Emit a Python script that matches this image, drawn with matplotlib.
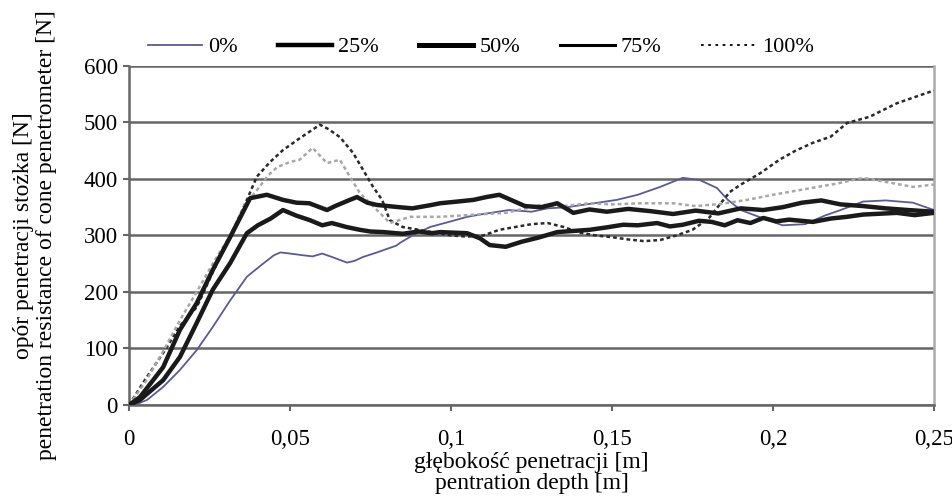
import numpy as np
import matplotlib
matplotlib.use('Agg')
import matplotlib.pyplot as plt
from matplotlib.lines import Line2D

plt.rcParams['font.family'] = ['Liberation Serif', 'DejaVu Serif']

# 0% - niebieska
x0 = [0, 0.003, 0.0056, 0.0106, 0.0158, 0.021, 0.026, 0.0314, 0.0366, 0.0416, 0.045, 0.047, 0.05, 0.054,
      0.057, 0.06, 0.063, 0.0677, 0.07, 0.0727, 0.077, 0.083, 0.0842, 0.088, 0.0935, 0.1, 0.105, 0.11,
      0.118, 0.125, 0.13, 0.136, 0.142, 0.1515, 0.158, 0.165, 0.172, 0.1773, 0.1826, 0.186, 0.19, 0.197,
      0.203, 0.21, 0.216, 0.221, 0.228, 0.235, 0.2435, 0.25]
y0 = [0, 3, 9, 32, 62, 97, 138, 185, 227, 250, 265, 270, 268, 265,
      263, 268, 262, 252, 255, 262, 270, 282, 287, 300, 315, 325, 333, 338,
      345, 342, 348, 350, 355, 363, 372, 386, 402, 398, 384, 363, 345, 330,
      318, 320, 335, 345, 360, 362, 358, 345]

# 25%
x25 = [0, 0.0034, 0.0106, 0.0158, 0.021, 0.026, 0.0314, 0.0366, 0.04, 0.044, 0.0478, 0.052, 0.0562,
       0.06, 0.063, 0.0675, 0.0717, 0.075, 0.079, 0.085, 0.09, 0.094, 0.0966, 0.105, 0.109, 0.112, 0.117,
       0.122, 0.127, 0.133, 0.138, 0.143, 0.148, 0.1535, 0.158, 0.164, 0.168, 0.172, 0.177, 0.181, 0.185,
       0.189, 0.193, 0.197, 0.201, 0.205, 0.2124, 0.218, 0.223, 0.228, 0.2385, 0.244, 0.25]
y25 = [0, 9, 44, 85, 145, 204, 251, 304, 318, 330, 345, 335, 327,
       318, 322, 315, 310, 307, 306, 303, 307, 304, 306, 304, 295, 283, 280,
       289, 296, 306, 308, 310, 314, 319, 318, 322, 316, 319, 326, 324, 318,
       327, 322, 331, 325, 328, 324, 330, 333, 337, 340, 336, 340]

# 50%
x50 = [0, 0.0034, 0.0106, 0.0158, 0.021, 0.026, 0.0314, 0.0376, 0.0428, 0.0478, 0.052, 0.056, 0.0615,
       0.064, 0.0686, 0.0708, 0.074, 0.077, 0.084, 0.088, 0.094, 0.0966, 0.102, 0.107, 0.111, 0.115,
       0.119, 0.123, 0.128, 0.133, 0.138, 0.143, 0.1484, 0.155, 0.162, 0.169, 0.176, 0.183, 0.19, 0.197,
       0.203, 0.209, 0.215, 0.221, 0.228, 0.235, 0.242, 0.25]
y50 = [0, 14, 67, 133, 180, 239, 297, 366, 372, 363, 358, 357, 345,
       352, 363, 368, 358, 354, 350, 348, 354, 357, 360, 363, 368, 372,
       362, 352, 350, 357, 340, 346, 342, 347, 343, 338, 344, 339, 348, 345,
       350, 358, 362, 355, 352, 348, 345, 342]

# 75% - jasnoszara kropkowana
x75 = [0, 0.005, 0.0106, 0.0158, 0.021, 0.026, 0.0314, 0.036, 0.0397, 0.043, 0.046, 0.05, 0.053, 0.057,
       0.0615, 0.0655, 0.0686, 0.0717, 0.077, 0.081, 0.0873, 0.0966, 0.105, 0.117, 0.128, 0.135, 0.143,
       0.15, 0.159, 0.169, 0.176, 0.184, 0.192, 0.2, 0.206, 0.213, 0.22, 0.228, 0.2435, 0.25]
y75 = [0, 40, 95, 150, 200, 250, 300, 355, 380, 405, 421, 430, 434, 455,
       428, 434, 404, 375, 345, 322, 333, 333, 336, 340, 354, 352, 357,
       355, 357, 357, 352, 356, 363, 372, 378, 385, 392, 402, 386, 390]

# 100% - ciemna kropkowana
x100 = [0, 0.005, 0.0106, 0.0158, 0.021, 0.026, 0.0314, 0.0366, 0.0397, 0.0438, 0.0478, 0.053, 0.0593,
        0.062, 0.0655, 0.0696, 0.0727, 0.0758, 0.0786, 0.081, 0.085, 0.09, 0.095, 0.1, 0.105, 0.11, 0.115,
        0.12, 0.125, 0.13, 0.135, 0.14, 0.145, 0.15, 0.155, 0.16, 0.165, 0.17, 0.175, 0.18, 0.1866, 0.19,
        0.196, 0.202, 0.207, 0.2124, 0.218, 0.223, 0.23, 0.2385, 0.2487, 0.25]
y100 = [0, 45, 92, 140, 173, 235, 297, 363, 404, 430, 451, 472, 496,
        488, 474, 446, 416, 386, 363, 327, 315, 310, 305, 300, 298, 300, 310,
        315, 320, 322, 315, 305, 300, 297, 293, 290, 292, 300, 310, 330, 377, 390,
        410, 434, 450, 464, 475, 499, 510, 534, 554, 556]

labels = ['0%', '25%', '50%', '75%', '100%']
xticks = [0, 0.05, 0.1, 0.15, 0.2, 0.25]
xtick_labels = ['0', '0,05', '0,1', '0,15', '0,2', '0,25']
yticks = [0, 100, 200, 300, 400, 500, 600]

fig = plt.figure(figsize=(9.53, 5.01), dpi=100)
ax = fig.add_axes([0.1354, 0.1916, 0.8446, 0.6768])

ax.plot(x0, y0, color='#5a5a96', lw=1.3, zorder=3)
ax.plot(x100, y100, color='#2a2a2a', lw=1.8, ls=(0, (1.5, 1.2)), zorder=3)
ax.plot(x75, y75, color='#a8a8a8', lw=1.8, ls=(0, (1.5, 1.2)), zorder=3)
ax.plot(x25, y25, color='#1a1a1a', lw=3.2, zorder=4)
ax.plot(x50, y50, color='#1a1a1a', lw=3.2, zorder=4)

ax.set_xlim(0, 0.25)
ax.set_ylim(0, 600)
ax.set_xticks(xticks)
ax.set_xticklabels(xtick_labels)
ax.set_yticks(yticks)
ax.grid(axis='y', color='#666666', lw=1.8)
ax.set_axisbelow(True)
for s in ['left', 'bottom']:
    ax.spines[s].set_color('#666666')
    ax.spines[s].set_linewidth(1.8)
ax.spines['top'].set_visible(False)
ax.spines['right'].set_color('#aaaaaa')
ax.spines['right'].set_linewidth(1.8)
ax.tick_params(axis='both', colors='#666666', width=1.5, length=4, labelsize=16.5, labelcolor='black')
ax.tick_params(axis='x', pad=13)
ax.tick_params(axis='y', pad=4)

ax.set_xlabel('głębokość penetracji [m]\npentration depth [m]', fontsize=17, linespacing=0.95, labelpad=2)
fig.text(0.0365, 0.53, 'opór penetracji stożka [N]\npenetration resistance of cone penetrometer [N]',
         fontsize=17, linespacing=1.12, rotation=90, ha='center', va='center', multialignment='center')

handles = [Line2D([], [], color='#5a5a96', lw=1.3),
           Line2D([], [], color='black', lw=3.2),
           Line2D([], [], color='black', lw=3.6),
           Line2D([], [], color='black', lw=2.2),
           Line2D([], [], color='black', lw=1.3, ls=(0, (1.5, 2.5)))]
fig.legend(handles, labels, loc='center left', bbox_to_anchor=(0.155, 0.906), ncol=5, frameon=False,
           fontsize=16, handlelength=2.45, handletextpad=0.27, columnspacing=1.8, borderpad=0, borderaxespad=0)

fig.savefig('out.png', dpi=100)
